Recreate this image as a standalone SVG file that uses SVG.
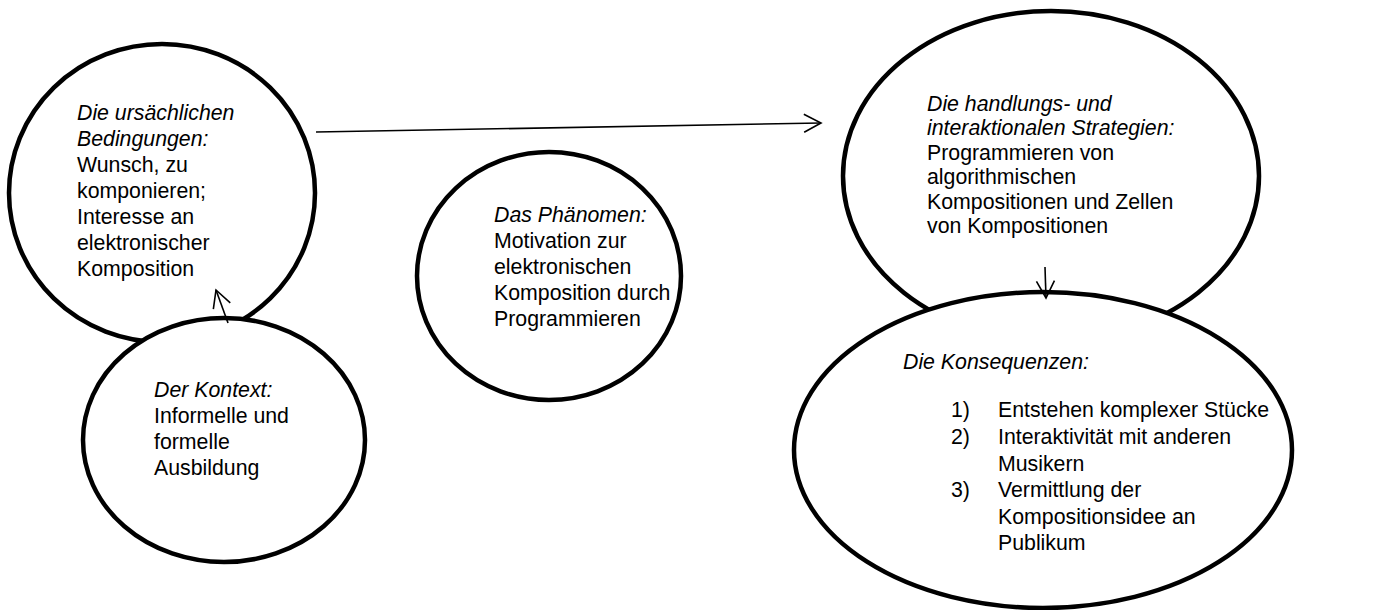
<svg xmlns="http://www.w3.org/2000/svg" width="1389" height="610" viewBox="0 0 1389 610">
<style>
.el{fill:#fff;stroke:#000;stroke-width:4.5}
.t{font-family:"Liberation Sans",Arial,sans-serif;font-size:21.3px;fill:#000}
.i{font-style:italic}
.c{fill:none;stroke:#000;stroke-width:1.6}
</style>
<defs>
<marker id="ah" markerUnits="userSpaceOnUse" markerWidth="24" markerHeight="24" refX="18" refY="10" orient="auto" viewBox="0 0 24 20">
<path d="M1,1 L18,10 L1,19" fill="none" stroke="#000" stroke-width="1.6"/>
</marker>
</defs>
<g id="node-ursachen">
<ellipse class="el" cx="162" cy="193" rx="153" ry="149"/>
<text class="t" x="77" y="120"><tspan class="i">Die ursächlichen</tspan><tspan class="i" x="77" dy="26">Bedingungen:</tspan><tspan x="77" dy="26">Wunsch, zu</tspan><tspan x="77" dy="26">komponieren;</tspan><tspan x="77" dy="26">Interesse an</tspan><tspan x="77" dy="26">elektronischer</tspan><tspan x="77" dy="26">Komposition</tspan></text>
</g>
<g id="node-kontext">
<ellipse class="el" cx="224" cy="440" rx="141" ry="122"/>
<text class="t" x="154" y="397"><tspan class="i">Der Kontext:</tspan><tspan x="154" dy="26">Informelle und</tspan><tspan x="154" dy="26">formelle</tspan><tspan x="154" dy="26">Ausbildung</tspan></text>
</g>
<g id="node-phaenomen">
<ellipse class="el" cx="549" cy="276" rx="132" ry="124"/>
<text class="t" x="494" y="222"><tspan class="i">Das Phänomen:</tspan><tspan x="494" dy="26">Motivation zur</tspan><tspan x="494" dy="26">elektronischen</tspan><tspan x="494" dy="26">Komposition durch</tspan><tspan x="494" dy="26">Programmieren</tspan></text>
</g>
<g id="node-strategien">
<ellipse class="el" cx="1051" cy="176" rx="208" ry="165"/>
<text class="t" x="927" y="111"><tspan class="i">Die handlungs- und</tspan><tspan class="i" x="927" dy="24.4">interaktionalen Strategien:</tspan><tspan x="927" dy="24.4">Programmieren von</tspan><tspan x="927" dy="24.4">algorithmischen</tspan><tspan x="927" dy="24.4">Kompositionen und Zellen</tspan><tspan x="927" dy="24.4">von Kompositionen</tspan></text>
</g>
<g id="node-konsequenzen">
<ellipse class="el" cx="1043" cy="450" rx="249" ry="158"/>
<text class="t i" x="903" y="369">Die Konsequenzen:</text>
<text class="t" x="951" y="417">1)<tspan x="951" y="444">2)</tspan><tspan x="951" y="524" dy="-27">3)</tspan></text>
<text class="t" x="998" y="417">Entstehen komplexer Stücke<tspan x="998" y="444">Interaktivität mit anderen</tspan><tspan x="998" y="471">Musikern</tspan><tspan x="998" y="497">Vermittlung der</tspan><tspan x="998" y="524">Kompositionsidee an</tspan><tspan x="998" y="550">Publikum</tspan></text>
</g>
<g id="connectors">
<line class="c" x1="316" y1="132" x2="821" y2="123" marker-end="url(#ah)"/>
<line class="c" x1="228" y1="323" x2="216" y2="290" marker-end="url(#ah)"/>
<line class="c" x1="1045" y1="267" x2="1046" y2="298" marker-end="url(#ah)"/>
</g>
</svg>
